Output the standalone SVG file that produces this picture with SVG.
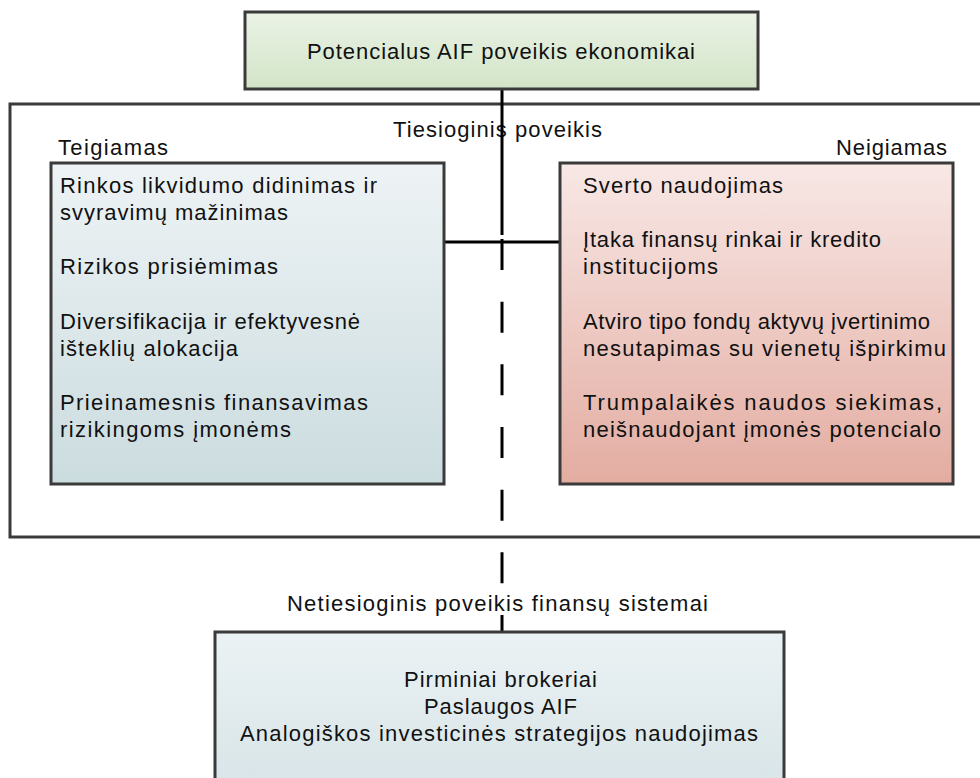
<svg xmlns="http://www.w3.org/2000/svg" width="980" height="778" viewBox="0 0 980 778">
<defs>
<linearGradient id="gGreen" x1="0" y1="0" x2="0" y2="1"><stop offset="0" stop-color="#ebf3e6"/><stop offset="1" stop-color="#d2e4c7"/></linearGradient>
<linearGradient id="gBlue" x1="0" y1="0" x2="0" y2="1"><stop offset="0" stop-color="#eef3f5"/><stop offset="1" stop-color="#cbdcdf"/></linearGradient>
<linearGradient id="gRed" x1="0" y1="0" x2="0" y2="1"><stop offset="0" stop-color="#f8e8e6"/><stop offset="1" stop-color="#e3aca1"/></linearGradient>
<linearGradient id="gBlue2" x1="0" y1="0" x2="0" y2="1"><stop offset="0" stop-color="#ebf2f4"/><stop offset="1" stop-color="#d7e4e7"/></linearGradient>
</defs>
<style>
text{font-family:"Liberation Sans",Arial,Helvetica,sans-serif;font-size:22px;fill:#111;}
.box{stroke:#3a3a3a;stroke-width:3;}
.conn{stroke:#000;stroke-width:3;fill:none;}
</style>
<g id="outer">
<rect x="10" y="104" width="990" height="433" fill="none" class="box"/>
<text x="393" y="137" textLength="209" lengthAdjust="spacing">Tiesioginis poveikis</text>
<text x="58" y="155" textLength="110" lengthAdjust="spacing">Teigiamas</text>
<text x="836" y="155" textLength="111" lengthAdjust="spacing">Neigiamas</text>
<text x="287" y="611" textLength="421" lengthAdjust="spacing">Netiesioginis poveikis finansų sistemai</text>
</g>
<g id="connectors">
<line class="conn" x1="502" y1="89" x2="502" y2="235"/>
<line class="conn" x1="444" y1="242" x2="560" y2="242"/>
<line class="conn" x1="502" y1="239" x2="502" y2="632" stroke-dasharray="31 31.67"/>
</g>
<g id="top">
<rect x="245" y="12" width="513" height="77" fill="url(#gGreen)" class="box"/>
<text x="307" y="59" textLength="388" lengthAdjust="spacing">Potencialus AIF poveikis ekonomikai</text>
</g>
<g id="positive">
<rect x="51" y="163" width="393" height="321" fill="url(#gBlue)" class="box"/>
<text x="60" y="193" textLength="317" lengthAdjust="spacing">Rinkos likvidumo didinimas ir</text>
<text x="60" y="220" textLength="228" lengthAdjust="spacing">svyravimų mažinimas</text>
<text x="60" y="274" textLength="218" lengthAdjust="spacing">Rizikos prisiėmimas</text>
<text x="60" y="329" textLength="300" lengthAdjust="spacing">Diversifikacija ir efektyvesnė</text>
<text x="60" y="356" textLength="178" lengthAdjust="spacing">išteklių alokacija</text>
<text x="60" y="410" textLength="308" lengthAdjust="spacing">Prieinamesnis finansavimas</text>
<text x="60" y="437" textLength="231" lengthAdjust="spacing">rizikingoms įmonėms</text>
</g>
<g id="negative">
<rect x="560" y="163" width="393" height="321" fill="url(#gRed)" class="box"/>
<text x="583" y="193" textLength="200" lengthAdjust="spacing">Sverto naudojimas</text>
<text x="583" y="247" textLength="298" lengthAdjust="spacing">Įtaka finansų rinkai ir kredito</text>
<text x="583" y="274" textLength="135" lengthAdjust="spacing">institucijoms</text>
<text x="583" y="329" textLength="347" lengthAdjust="spacing">Atviro tipo fondų aktyvų įvertinimo</text>
<text x="583" y="356" textLength="363" lengthAdjust="spacing">nesutapimas su vienetų išpirkimu</text>
<text x="583" y="410" textLength="359" lengthAdjust="spacing">Trumpalaikės naudos siekimas,</text>
<text x="583" y="437" textLength="358" lengthAdjust="spacing">neišnaudojant įmonės potencialo</text>
</g>
<g id="indirect">
<rect x="215" y="632" width="569" height="160" fill="url(#gBlue2)" class="box"/>
<text x="404" y="687" textLength="193" lengthAdjust="spacing">Pirminiai brokeriai</text>
<text x="424" y="714" textLength="153" lengthAdjust="spacing">Paslaugos AIF</text>
<text x="240" y="741" textLength="518" lengthAdjust="spacing">Analogiškos investicinės strategijos naudojimas</text>
</g>
</svg>
